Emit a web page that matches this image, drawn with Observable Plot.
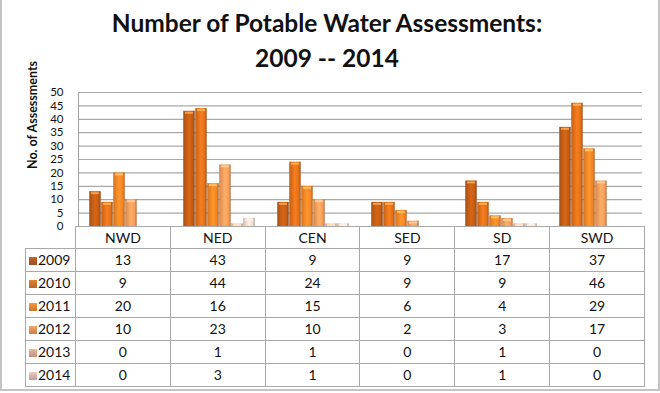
<!DOCTYPE html>
<html>
<head>
<meta charset="utf-8">
<script src="https://cdn.jsdelivr.net/npm/d3@7"></script>
<script src="https://cdn.jsdelivr.net/npm/@observablehq/plot@0.6"></script>
<style>
  html, body { margin: 0; padding: 0; background: #fff; }
  #wrap { position: relative; width: 660px; height: 393px; overflow: hidden; background: #fff; font-family: Lato, "Open Sans", sans-serif; }
  #frame { position: absolute; left: 0; top: -2px; height: 393px; width: 660px; border-left: 2px solid #c4c4c4; border-right: 2px solid #c4c4c4; border-bottom: 2px solid #c4c4c4; box-sizing: border-box; }
  #title { position: absolute; left: 0; top: 5px; width: 654px; text-align: center; font-weight: bold; font-size: 24.5px; line-height: 35px; color: #111; }
  #ylabel { position: absolute; left: 32px; top: 115px; transform: translate(-50%, -50%) rotate(-90deg); font-weight: bold; font-size: 12.5px; white-space: nowrap; color: #111; }
  #chart { position: absolute; left: 0; top: 80px; }
  #tbl { position: absolute; left: 25px; top: 226px; border-collapse: collapse; table-layout: fixed; width: 619px; font-size: 14px; color: #111; }
  #tbl td { border: 1px solid #a8a8a8; padding: 0; text-align: center; height: 22px; line-height: 16px; }
  #tbl tr.hd td { height: 21px; }
  #tbl td.corner { border-top: none; border-left: none; }
  #tbl td.lab { text-align: left; padding-left: 3px; }
  .sw { display: inline-block; width: 8px; height: 8px; margin-right: 1px; vertical-align: 0px; }
</style>
</head>
<body>
<div id="wrap">
  <div id="frame"></div>
  <div id="title">Number of Potable Water Assessments:<br>2009 -- 2014</div>
  <div id="ylabel">No. of Assessments</div>
  <div id="chart"></div>
  <table id="tbl"></table>
</div>
<script>
const regions = ["NWD", "NED", "CEN", "SED", "SD", "SWD"];
const years = ["2009", "2010", "2011", "2012", "2013", "2014"];
const v2009 = [13, 43, 9, 9, 17, 37];
const v2010 = [9, 44, 24, 9, 9, 46];
const v2011 = [20, 16, 15, 6, 4, 29];
const v2012 = [10, 23, 10, 2, 3, 17];
const v2013 = [0, 1, 1, 0, 1, 0];
const v2014 = [0, 3, 1, 0, 1, 0];
const yTicks = [0, 5, 10, 15, 20, 25, 30, 35, 40, 45, 50];

const series = [v2009, v2010, v2011, v2012, v2013, v2014];
const data = [];
years.forEach((yr, j) => regions.forEach((r, i) => data.push({region: r, year: yr, value: series[j][i]})));

const baseColors = ["#c25c14", "#e0701a", "#f28626", "#f49d5c", "#f6c9a4", "#f3dbd0"];
const capColors = ["#f0a050", "#ffb055", "#ffc065", "#ffca95", "#fde4cc", "#fbeee8"];
const swatchColors = ["#b05a28", "#d0762e", "#e48a36", "#e0955c", "#d9a78e", "#d9b8ae"];
const gradIds = years.map((y, i) => "g" + y);

const chart = Plot.plot({
  width: 660,
  height: 160,
  marginTop: 12,
  marginBottom: 14,
  marginLeft: 76,
  marginRight: 17,
  style: {fontFamily: "Lato, 'Open Sans', sans-serif", fontSize: "11.5px", background: "transparent", color: "#111", overflow: "visible"},
  fx: {domain: regions, padding: 0, axis: null},
  x: {domain: years, paddingInner: 0, paddingOuter: 0.63, axis: null},
  y: {domain: [0, 50], axis: null},
  color: {domain: years, range: gradIds.map(id => `url(#${id})`)},
  marks: [
    Plot.ruleY(yTicks, {y: d => d, stroke: "#a9a9a9", strokeWidth: 1.2}),
    Plot.axisY({ticks: yTicks, tickSize: 0, tickPadding: 15, label: null, facetAnchor: "left", fontSize: 11.5}),
    Plot.barY(data, {fx: "region", x: "year", y: "value", fill: "year", insetLeft: 0.3, insetRight: 0.3}),
    Plot.tickY(data.filter(d => d.value > 0), {fx: "region", x: "year", y: "value", stroke: d => capColors[years.indexOf(d.year)], strokeWidth: 2, dy: 1.5, inset: 2}),
    Plot.frame({anchor: "left", facetAnchor: "left", stroke: "#a0a0a0"}),
    Plot.ruleY([0], {stroke: "#a0a0a0"})
  ]
});

// gradients for cylinder-like bars
const defs = d3.select(chart).insert("defs", ":first-child");
baseColors.forEach((c, i) => {
  const g = defs.append("linearGradient").attr("id", gradIds[i]).attr("x1", 0).attr("x2", 1).attr("y1", 0).attr("y2", 0);
  const base = d3.color(c);
  const stops = [[0, base.darker(0.8)], [0.12, base.darker(0.2)], [0.5, base.brighter(0.3)], [0.82, base], [1, base.darker(0.9)]];
  stops.forEach(([o, col]) => g.append("stop").attr("offset", o).attr("stop-color", col.formatHex()));
});
document.getElementById("chart").appendChild(chart);

// data table
const tbl = d3.select("#tbl");
const cg = tbl.append("colgroup");
cg.append("col").style("width", "50px");
regions.forEach(() => cg.append("col").style("width", (569 / 6) + "px"));
const hd = tbl.append("tr").attr("class", "hd");
hd.append("td").attr("class", "corner");
regions.forEach(r => hd.append("td").text(r));
years.forEach((yr, j) => {
  const tr = tbl.append("tr");
  const lab = tr.append("td").attr("class", "lab");
  lab.append("span").attr("class", "sw").style("background", `linear-gradient(${d3.color(swatchColors[j]).brighter(0.3)}, ${swatchColors[j]} 40%, ${d3.color(swatchColors[j]).darker(0.4)})`);
  lab.append("span").text(yr);
  series[j].forEach(v => tr.append("td").text(v));
});
</script>
</body>
</html>
